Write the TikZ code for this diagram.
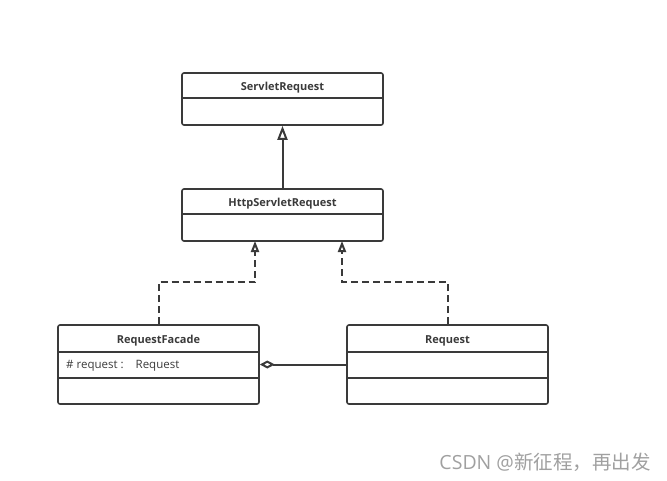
\documentclass[tikz,border=0pt]{standalone}
\usepackage{fontspec}
\setmainfont{Open Sans}
\newfontfamily\cjkfont{Noto Sans CJK SC}
\usetikzlibrary{arrows.meta}
\definecolor{umlline}{HTML}{3A3A3A}
\definecolor{marktext}{HTML}{A0A0A0}
\begin{document}
\begin{tikzpicture}
  [x=1pt,y=-1pt,
   every node/.style={text=umlline,inner sep=0pt}]

  \tikzstyle{umlpath} = [draw=umlline,line width=1.6pt]
  \tikzstyle{umllink} = [draw=umlline,line width=2pt]
  \tikzstyle{classbox} = [umlpath,rounded corners=2pt,minimum width=201pt]
  \tikzstyle{classname} = [font=\fontsize{11}{13}\selectfont\bfseries]
  \tikzstyle{attr} = [font=\fontsize{11.5}{13}\selectfont,anchor=west]
  \tikzstyle{inherit} = [umllink,-{Triangle[open,width=10pt,length=14pt]}]
  \tikzstyle{realize} = [umllink,dash pattern=on 7pt off 4pt,-{Triangle[open,width=8pt,length=11pt]}]
  \tikzstyle{aggreg} = [umllink,-{Diamond[open,width=8pt,length=15pt]}]

  \useasboundingbox (0,0) rectangle (667,480);

  \node[classbox,minimum height=52pt] (servlet) at (282.5,99)    {};
  \node[classbox,minimum height=52pt] (httpreq) at (282.5,215)   {};
  \node[classbox,minimum height=79pt] (facade)  at (158.5,364.5) {};
  \node[classbox,minimum height=79pt] (request) at (447.5,364.5) {};

  \node[classname] (servletname) at (282.5,87.5)  {ServletRequest};
  \node[classname] (httpreqname) at (282.5,203.5) {HttpServletRequest};
  \node[classname] (facadename)  at (158.5,340.5) {RequestFacade};
  \node[classname] (requestname) at (447.5,340.5) {Request};
  \node[attr]      (facadeattr)  at (66,365.5)    {\#\ request :\hspace{12pt}Request};

  \draw[umlpath] (servlet.west |- 0,98)  -- (servlet.east |- 0,98);
  \draw[umlpath] (httpreq.west |- 0,214) -- (httpreq.east |- 0,214);
  \draw[umlpath] (facade.west |- 0,352)  -- (facade.east |- 0,352);
  \draw[umlpath] (facade.west |- 0,378)  -- (facade.east |- 0,378);
  \draw[umlpath] (request.west |- 0,352) -- (request.east |- 0,352);
  \draw[umlpath] (request.west |- 0,378) -- (request.east |- 0,378);

  \coordinate (httpleft)  at (255,241);
  \coordinate (httpright) at (342,241);

  \draw[inherit] (httpreq.north) -- (servlet.south);
  \draw[realize] (facade.north)  -- ++(0,-42) -| (httpleft);
  \draw[realize] (request.north) -- ++(0,-42) -| (httpright);
  \draw[aggreg]  (request.west)  -- (facade.east);

  \node[text=marktext,font=\fontsize{19.5}{22}\selectfont] (mark) at (545,462)
    {CSDN @{\cjkfont 新征程，再出发}};
\end{tikzpicture}
\end{document}
